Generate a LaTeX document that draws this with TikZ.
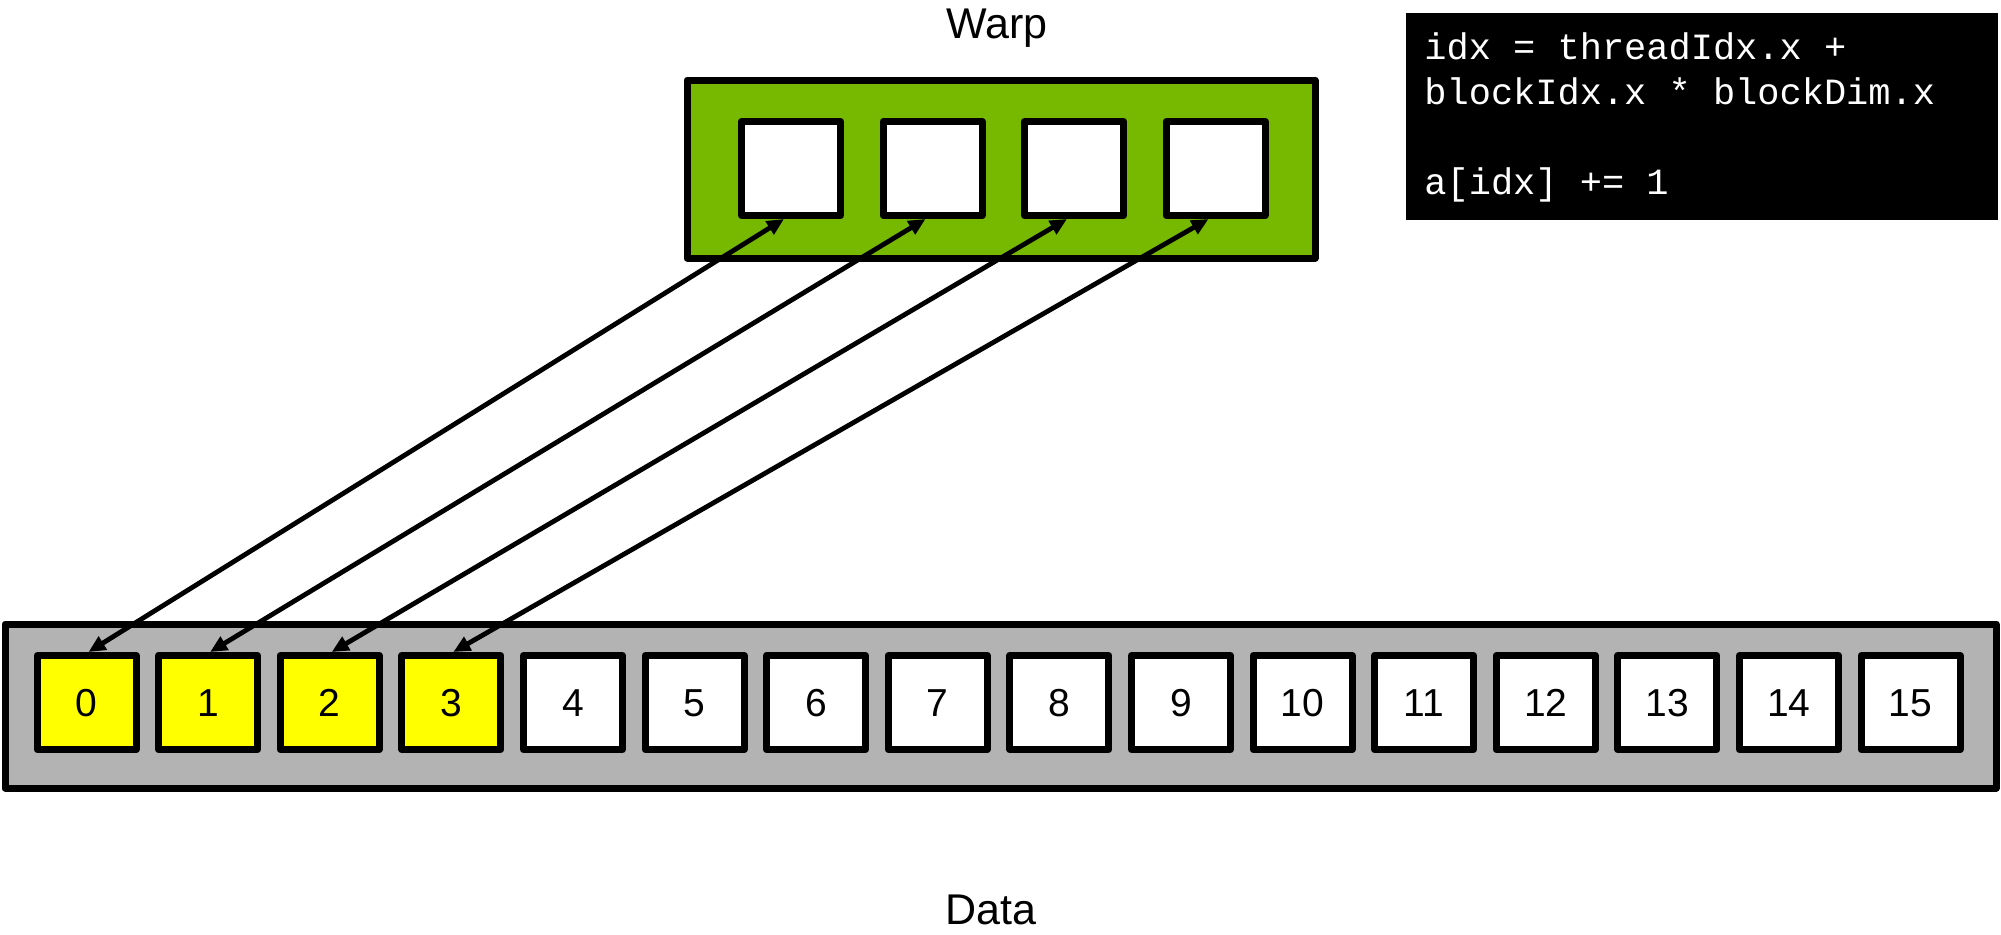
\documentclass[tikz,border=0pt]{standalone}
\usepackage{fontspec}
\setmainfont{Liberation Sans}
\setmonofont{Liberation Mono}
\usetikzlibrary{arrows.meta}
\definecolor{warpgreen}{HTML}{76B900}
\definecolor{datagray}{HTML}{B3B3B3}
\definecolor{laneyellow}{HTML}{FFFF00}

\begin{document}
\begin{tikzpicture}[x=0.5pt,y=-0.5pt,
  frame/.style={draw=black,line width=3.5pt,line join=round,inner sep=0pt},
  cell/.style={frame,minimum width=49.5pt,minimum height=47pt,fill=white,
    text height=14pt,text depth=0pt,
    font=\fontsize{19.5}{22}\selectfont},
  lane/.style={cell,fill=laneyellow},
  caption/.style={font=\fontsize{21.5}{25}\selectfont,anchor=base,inner sep=0pt},
  link/.style={line width=2.4pt,
    {Triangle[length=8.5pt,width=7.5pt]}-{Triangle[length=8.5pt,width=7.5pt]}}
]
\useasboundingbox (0,0) rectangle (2001,934);

% containers
\node[frame,fill=warpgreen,minimum width=314pt,minimum height=89pt] (warp) at (1001,169) {};
\node[frame,fill=datagray,minimum width=995.5pt,minimum height=82pt] (data) at (1000.5,706) {};
\node[fill=black,minimum width=296pt,minimum height=103.5pt,inner sep=0pt] (code) at (1702,116.5) {};
\node[anchor=base west,text=white,align=left,inner sep=0pt,
  font=\ttfamily\fontsize{18.5}{22.5}\selectfont] (codetext) at (1424,194)
  {idx = threadIdx.x +\\blockIdx.x * blockDim.x\\[22.5pt]a[idx] += 1};

% threads of the warp
\foreach \i in {0,...,3}
  \node[cell] (w\i) at ({791+141.5*\i},168.5) {};

% data elements
\foreach \i in {0,...,3}
  \node[lane] (d\i) at ({86.5+121.6*\i},702.5) {\i};
\foreach \i in {4,...,15}
  \node[cell] (d\i) at ({86.5+121.6*\i},702.5) {\i};

% thread <-> element accesses
\foreach \i in {0,...,3}
  \draw[link] ([xshift=1pt]d\i.north) -- ([xshift=-3.5pt]w\i.south);

% captions
\node[caption] (warplabel) at (997,38) {Warp};
\node[caption] (datalabel) at (991,924) {Data};
\end{tikzpicture}
\end{document}
